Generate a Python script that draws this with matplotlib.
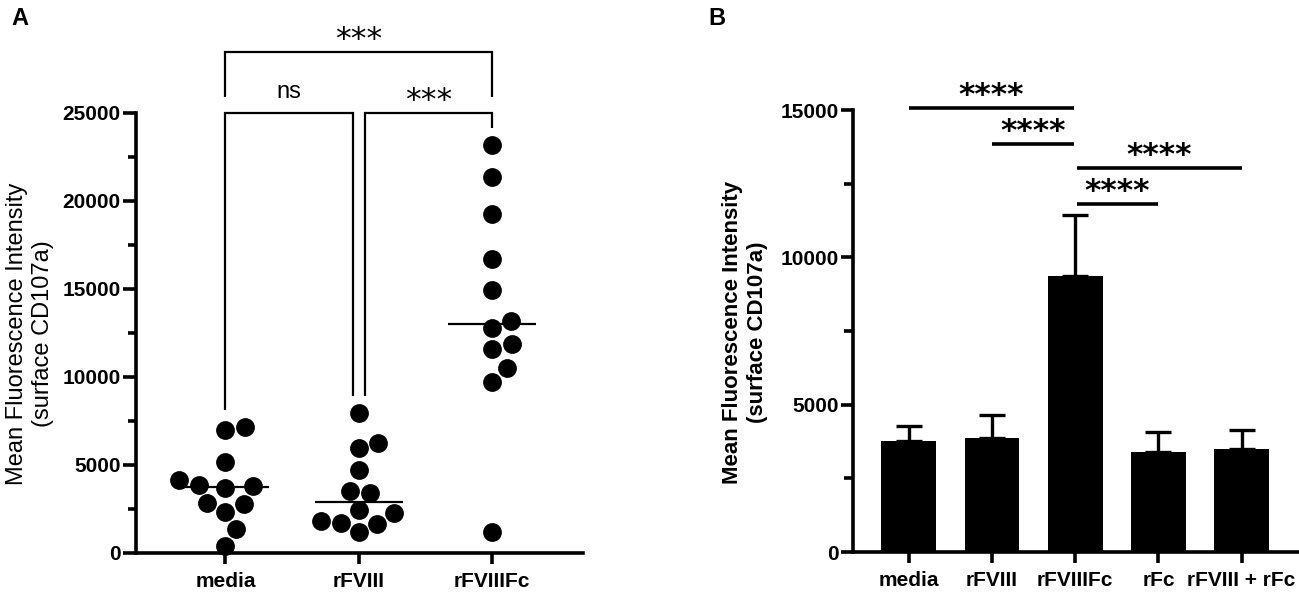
import numpy as np
import matplotlib
matplotlib.use('Agg')
import matplotlib.pyplot as plt
from matplotlib.ticker import FixedLocator

plt.rcParams['font.family'] = ['Liberation Sans', 'DejaVu Sans']

# ---------------- data ----------------
# Panel A: individual donors (scatter with median)
a_categories = ['media', 'rFVIII', 'rFVIIIFc']
a_media = [7180, 7000, 5190, 4150, 3860, 3800, 3690, 2840, 2780, 2350, 1360, 400]
a_rfviii = [7970, 6230, 5980, 4715, 3540, 3390, 2440, 2250, 1840, 1720, 1650, 1175]
a_rfviiifc = [23180, 21380, 19240, 16690, 14940, 13200, 12770, 11860, 11570,
              10490, 9730, 1175]
a_yticks = [0, 5000, 10000, 15000, 20000, 25000]
a_comparisons = [(0, 1, 'ns'), (1, 2, '***'), (0, 2, '***')]

# Panel B: bar chart with error bars
b_categories = ['media', 'rFVIII', 'rFVIIIFc', 'rFc', 'rFVIII + rFc']
b_means = [3780, 3860, 9380, 3400, 3490]
b_errors = [500, 790, 2060, 660, 650]
b_yticks = [0, 5000, 10000, 15000]
b_comparisons = [(0, 2, '****'), (1, 2, '****'), (2, 4, '****'), (2, 3, '****')]

ylabel_text = 'Mean Fluorescence Intensity\n(surface CD107a)'

# ---------------- figure ----------------
W, H = 1299, 593
fig = plt.figure(figsize=(W / 100, H / 100), dpi=100)


def px_axes(l, t, r, b):
    return fig.add_axes([l / W, 1 - b / H, (r - l) / W, (b - t) / H])


def style_axes(ax, yticks, ticklen, minlen):
    ytop = yticks[-1]
    for s in ['top', 'right']:
        ax.spines[s].set_visible(False)
    for s in ['left', 'bottom']:
        ax.spines[s].set_linewidth(2.6)
    ax.spines['left'].set_bounds(0, ytop)
    step = (yticks[1] - yticks[0]) / 2
    ax.yaxis.set_minor_locator(FixedLocator(np.arange(step, ytop, step * 2)))
    ax.tick_params(axis='y', which='major', length=ticklen, width=2.6,
                   labelsize=15, pad=1.5)
    ax.tick_params(axis='y', which='minor', length=minlen, width=2.6)
    ax.tick_params(axis='x', which='major', length=8, width=2.6,
                   labelsize=15, pad=6)
    for lab in ax.get_yticklabels():
        lab.set_fontweight('bold')


def swarm_x(ax, x0, values, diam):
    pts = ax.transData.transform([(x0, v) for v in values])
    ys = pts[:, 1]
    order = np.argsort(values)
    placed = []
    offs = np.zeros(len(values))
    for i in order:
        y = ys[i]
        cands = [0.0]
        for px, py in placed:
            dy = abs(py - y)
            if dy < diam:
                w = np.sqrt(diam ** 2 - dy ** 2)
                cands += [px + w, px - w]
        cands.sort(key=lambda c: (abs(c), -c))
        chosen = 0.0
        for c in cands:
            if all((c - px) ** 2 + (y - py) ** 2 >= diam ** 2 - 1e-6
                   for px, py in placed):
                chosen = c
                break
        placed.append((chosen, y))
        offs[i] = chosen
    unit = ax.transData.transform((1, 0))[0] - ax.transData.transform((0, 0))[0]
    return x0 + offs / unit


# ---------------- Panel A ----------------
axA = px_axes(136, 25, 583, 553)
axA.set_xlim(-0.67, 2.68)
axA.set_ylim(0, 30000)
axA.set_yticks(a_yticks)
axA.set_xticks(range(len(a_categories)))
axA.set_xticklabels(a_categories, fontweight='bold')
style_axes(axA, a_yticks, 9.5, 6)

groups = [a_media, a_rfviii, a_rfviiifc]
for i, vals in enumerate(groups):
    xs = swarm_x(axA, i, vals, 20)
    axA.plot(xs, vals, 'o', ms=12.5, color='black', mec='black',
             clip_on=False, zorder=3)
    med = np.median(vals)
    axA.plot([i - 0.33, i + 0.33], [med, med], color='black', lw=1.6,
             zorder=4, solid_capstyle='butt')

# brackets
bw = dict(color='black', lw=1.6, clip_on=False, solid_capstyle='butt',
          solid_joinstyle='miter')
lvl0 = 25000
lvl1 = 28480
gap = 0.045
for (i, j, lab) in a_comparisons:
    if j - i == 1:
        x1 = i + (gap if i == 1 else 0)
        x2 = j - (gap if j == 1 else 0)
        y = lvl0
        y1 = max(groups[i]) + 950
        y2 = max(groups[j]) + 950
    else:
        x1, x2 = i, j
        y = lvl1
        y1 = y2 = lvl0 + 930
    axA.plot([x1, x1, x2, x2], [y1, y, y, y2], **bw)
    if lab == 'ns':
        axA.annotate(lab, xy=((x1 + x2) / 2, y), xytext=(0, 10.5),
                     textcoords='offset points', ha='center', va='baseline',
                     fontsize=17, annotation_clip=False)
    else:
        axA.annotate(lab, xy=((x1 + x2) / 2, y), xytext=(0, 3),
                     textcoords='offset points', ha='center', va='baseline',
                     fontsize=22.5, family='DejaVu Sans', annotation_clip=False)

fig.text(30 / W, 1 - 334 / H, ylabel_text, rotation=90, ha='center',
         va='center', fontsize=17, multialignment='center', linespacing=1.25)
fig.text(11 / W, 1 - 25 / H, 'A', fontsize=17, fontweight='bold',
         va='baseline', ha='left')

# ---------------- Panel B ----------------
axB = px_axes(853, 21.6, 1299, 552)
axB.set_xlim(-0.67, 4.69)
axB.set_ylim(0, 18000)
xb = np.arange(len(b_categories))
axB.bar(xb, b_means, width=0.66, color='black', zorder=2)
axB.errorbar(xb, b_means, yerr=[np.zeros(len(b_errors)), b_errors], fmt='none',
             ecolor='black', elinewidth=2.4, capsize=9.7, capthick=2.4,
             zorder=1)
axB.set_yticks(b_yticks)
axB.set_xticks(xb)
axB.set_xticklabels(b_categories, fontweight='bold')
style_axes(axB, b_yticks, 9, 6.5)

b_levels = [15058, 13836, 13042, 11810]
for (i, j, lab), y in zip(b_comparisons, b_levels):
    x1 = i + (0.02 if i == 2 else 0)
    x2 = j - (0.02 if j == 2 else 0)
    axB.plot([x1, x2], [y, y], color='black', lw=2.6, clip_on=False,
             solid_capstyle='butt')
    axB.annotate(lab, xy=((x1 + x2) / 2, y), xytext=(0, 3),
                 textcoords='offset points', ha='center', va='baseline',
                 fontsize=22.5, family='DejaVu Sans', fontweight='bold',
                 annotation_clip=False)

fig.text(745 / W, 1 - 332 / H, ylabel_text, rotation=90, ha='center',
         va='center', fontsize=16, fontweight='bold', multialignment='center',
         linespacing=1.2)
fig.text(708 / W, 1 - 25 / H, 'B', fontsize=17, fontweight='bold',
         va='baseline', ha='left')

fig.savefig('out.png', dpi=100)
